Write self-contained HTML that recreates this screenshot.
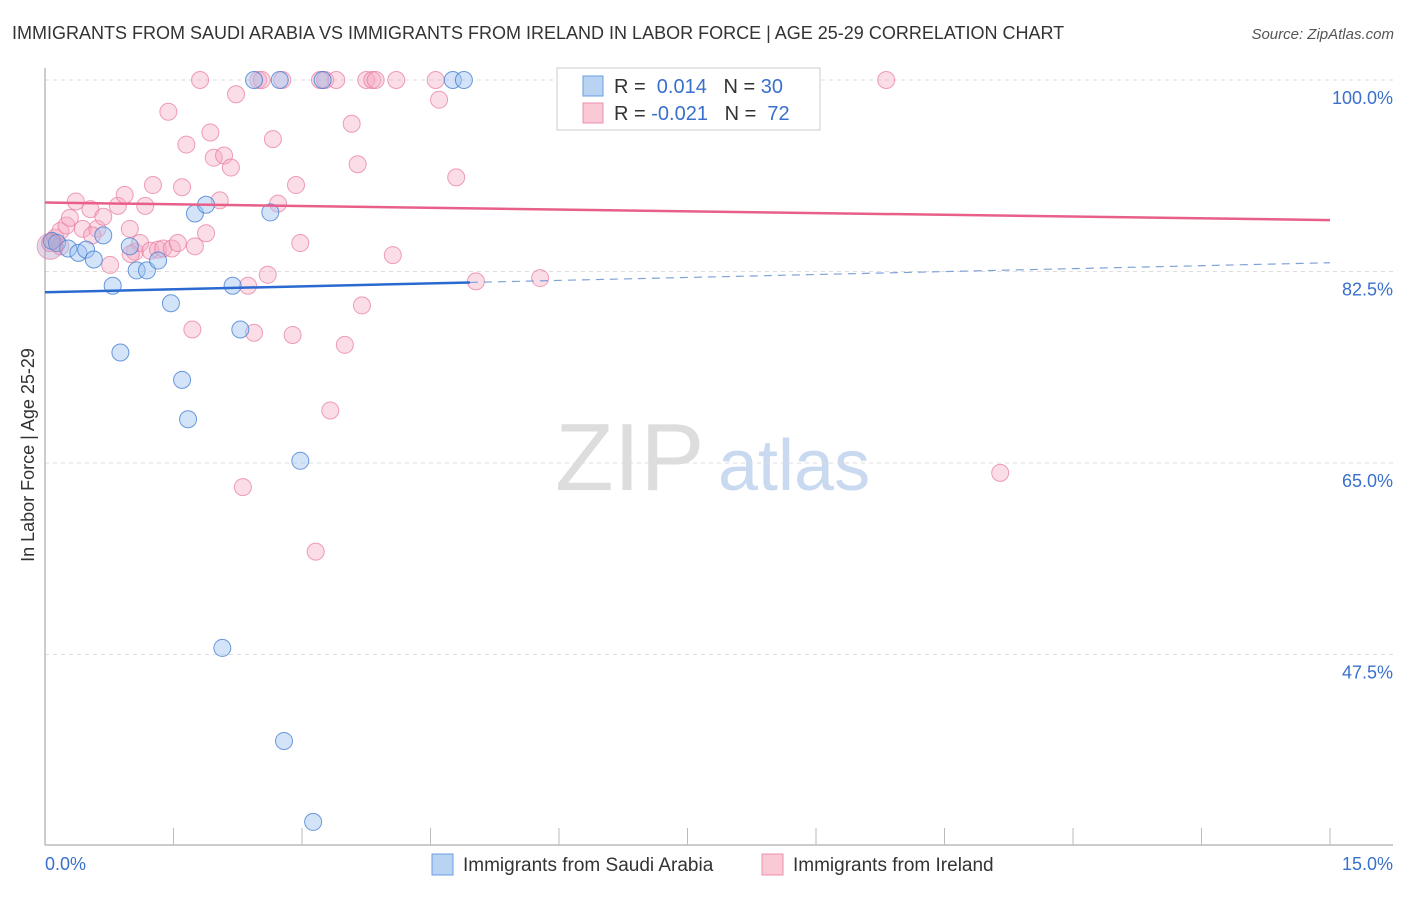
<!DOCTYPE html>
<html><head><meta charset="utf-8"><style>
body{margin:0;background:#fff;font-family:"Liberation Sans",sans-serif;}
svg text{font-family:"Liberation Sans",sans-serif;}
</style></head><body>
<svg id="c" width="1406" height="892" xmlns="http://www.w3.org/2000/svg">
<text x="12" y="39" font-size="18" fill="#333">IMMIGRANTS FROM SAUDI ARABIA VS IMMIGRANTS FROM IRELAND IN LABOR FORCE | AGE 25-29 CORRELATION CHART</text>
<text x="1394" y="39" font-size="15" fill="#555" font-style="italic" text-anchor="end">Source: ZipAtlas.com</text>
<text x="555" y="490" font-size="96" fill="#ddd" font-family="Liberation Serif">ZIP</text>
<text x="718" y="490" font-size="72" fill="#c8d9f0">atlas</text>
<text transform="translate(34,455) rotate(-90)" font-size="18" fill="#333" text-anchor="middle">In Labor Force | Age 25-29</text>
<g id="grid"></g><g id="pts"></g><g id="lines"></g>
<g>
<rect x="557" y="68" width="263" height="62" fill="#fff" stroke="#ccc"/>
<rect x="583" y="76" width="20" height="20" fill="#b9d3f3" stroke="#6a9de0"/>
<rect x="583" y="103" width="20" height="20" fill="#f9c9d6" stroke="#ec90ad"/>
<text x="614" y="93" font-size="20" fill="#333">R = <tspan fill="#3a70cc">&#160;0.014</tspan>&#160;&#160;&#160;N = <tspan fill="#3a70cc">30</tspan></text>
<text x="614" y="120" font-size="20" fill="#333">R = <tspan fill="#3a70cc">-0.021</tspan>&#160;&#160;&#160;N = <tspan fill="#3a70cc">&#160;72</tspan></text>
</g>
<g>
<rect x="432" y="854" width="21" height="21" fill="#b9d3f3" stroke="#6a9de0"/>
<text x="463" y="871" font-size="19" fill="#333">Immigrants from Saudi Arabia</text>
<rect x="762" y="854" width="21" height="21" fill="#f9c9d6" stroke="#ec90ad"/>
<text x="793" y="871" font-size="19" fill="#333">Immigrants from Ireland</text>
</g>
</svg>
<script>
const xTicks=[0,1.5,3,4.5,6,7.5,9,10.5,12,13.5,15];
const yTicks=[100,82.5,65,47.5];
const yTickLabels=["100.0%","82.5%","65.0%","47.5%"];
const saudiX=[0.08,0.14,0.27,0.39,0.48,0.57,0.68,0.79,0.99,1.07,1.19,1.32,0.88,1.47,1.6,1.67,1.75,1.88,2.19,2.28,2.44,2.74,2.63,2.98,2.79,3.13,2.07,3.24,4.76,4.89];
const saudiY=[85.3,85.1,84.6,84.2,84.5,83.6,85.8,81.2,84.8,82.6,82.6,83.5,75.1,79.6,72.6,69.0,87.8,88.6,81.2,77.2,100,100,87.9,65.2,39.6,32.2,48.1,100,100,100];
const irelandX=[0.06,0.12,0.18,0.25,0.29,0.36,0.44,0.53,0.61,0.68,0.76,0.85,0.93,0.99,1.05,1.11,1.17,1.23,1.26,1.32,1.38,1.44,1.48,1.55,1.6,1.65,1.72,1.75,1.81,1.88,1.93,1.97,2.04,2.09,2.17,2.23,2.31,2.37,2.44,2.49,2.53,2.6,2.66,2.72,2.77,2.89,2.93,2.98,3.16,3.21,3.27,3.33,3.4,3.5,3.58,3.65,3.7,3.75,3.82,3.86,4.06,4.1,4.56,4.6,4.8,5.03,5.78,9.82,11.15,0.18,0.55,1.0];
const irelandY=[85.1,85.6,86.2,86.7,87.4,88.9,86.4,88.2,86.4,87.5,83.1,88.5,89.5,86.4,84.3,85.1,88.5,84.4,90.4,84.5,84.6,97.1,84.6,85.1,90.2,94.1,77.2,84.8,100,86.0,95.2,92.9,89.0,93.1,92.0,98.7,62.8,81.2,76.9,100,100,82.2,94.6,88.7,100,76.7,90.4,85.1,56.9,100,100,69.8,100,75.8,96.0,92.3,79.4,100,100,100,84.0,100,100,98.2,91.1,81.6,81.9,100,64.1,84.8,85.8,84.1];
const X=v=>45+v*(1285/15);
const Y=v=>80+(100-v)*(191.5/17.5);
const NS="http://www.w3.org/2000/svg";
function mk(tag,attrs,parent){const e=document.createElementNS(NS,tag);for(const k in attrs)e.setAttribute(k,attrs[k]);document.getElementById(parent).appendChild(e);return e;}
yTicks.forEach((t,i)=>{
 const g=mk('line',{x1:45,x2:1393,y1:Y(t),y2:Y(t),stroke:'#ddd','stroke-dasharray':'4,4'},'grid');
 
 
 const l=mk('text',{x:1393,y:Y(t)+24,'font-size':18,fill:'#3a70cc','text-anchor':'end'},'grid');
 l.textContent=yTickLabels[i];
 
 
});
const ax=mk('line',{x1:45,x2:1393,y1:845,y2:845,stroke:'#bbb','stroke-width':1.5},'grid');


const ay=mk('line',{x1:45,x2:45,y1:68,y2:845,stroke:'#bbb','stroke-width':1.5},'grid');


xTicks.forEach(t=>{
 const k=mk('line',{x1:X(t),x2:X(t),y1:828,y2:845,stroke:'#bbb'},'grid');
 
 
});
[[0,'0.0%','start',45],[15,'15.0%','end',1393]].forEach(a=>{
 const l=mk('text',{x:a[3],y:870,'font-size':18,fill:'#3a70cc','text-anchor':a[2]},'grid');
 l.textContent=a[1];
 
 
});
irelandX.forEach((x,i)=>{
 const c=mk('circle',{cx:X(x),cy:Y(irelandY[i]),r:8.5,fill:'rgba(246,170,195,0.4)',stroke:'rgba(232,120,155,0.7)'},'pts');
 
 
});
saudiX.forEach((x,i)=>{
 const c=mk('circle',{cx:X(x),cy:Y(saudiY[i]),r:8.5,fill:'rgba(160,195,240,0.45)',stroke:'rgba(60,120,210,0.75)'},'pts');
 
 
});
const big=mk('circle',{cx:X(0.06),cy:Y(84.8),r:13,fill:'rgba(170,140,190,0.35)',stroke:'rgba(232,120,155,0.6)'},'pts');


const pl=mk('line',{x1:X(0),x2:X(15),y1:Y(88.8),y2:Y(87.2),stroke:'#e8608a','stroke-width':2.5},'lines');


const bl=mk('line',{x1:X(0),x2:X(4.96),y1:Y(80.6),y2:Y(81.5),stroke:'#2a6ad0','stroke-width':2.5},'lines');


const bd=mk('line',{x1:X(4.96),x2:X(15),y1:Y(81.5),y2:Y(83.3),stroke:'#7fa3d8','stroke-width':1.2,'stroke-dasharray':'8,6'},'lines');


</script>
</body></html>
